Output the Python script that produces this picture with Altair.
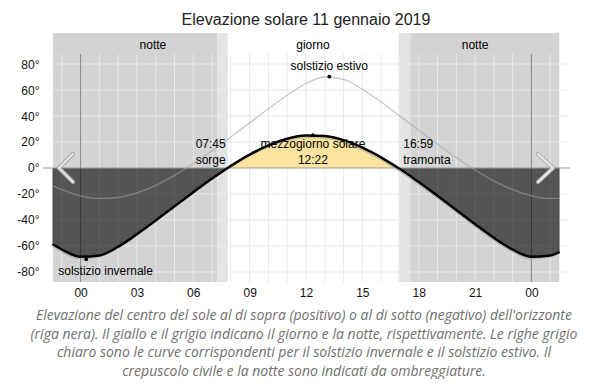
import altair as alt
import pandas as pd

# ---- data ----
hours = [-1.5, -1, 0, 1, 2, 3, 4, 5, 6, 7, 8, 9, 10, 11, 12, 13, 14, 15, 16, 17,
         18, 19, 20, 21, 22, 23, 24, 25, 25.5]
today = [-58.5, -62.7, -68.3, -67.3, -60.6, -51.0, -40.4, -29.4, -18.6, -8.1, 1.6, 10.3,
         17.4, 22.5, 25.0, 24.6, 21.4, 15.7, 8.2, -0.8, -10.8, -21.4, -32.3, -43.2,
         -53.7, -62.7, -68.3, -67.3, -64.5]
summer = [-13.5, -16.7, -21.4, -23.4, -22.7, -19.2, -13.4, -5.7, 3.3, 13.2, 23.8, 34.7,
          45.6, 56.0, 65.0, 70.0, 68.1, 60.6, 50.7, 39.9, 29.0, 18.3, 8.0, -1.5, -9.9,
          -16.7, -21.4, -23.4, -23.4]
winter = [-60.2, -64.5, -69.9, -68.4, -61.1, -51.3, -40.6, -29.7, -18.9, -8.6, 1.0, 9.4,
          16.3, 21.1, 23.4, 22.8, 19.5, 13.8, 6.2, -2.7, -12.6, -23.2, -34.0, -44.9,
          -55.4, -64.5, -69.9, -68.4, -65.3]
sunrise, sunset = 7.83, 16.91

night_start = [-1.47, 17.55]
night_end = [7.29, 25.48]
twilight_start = [7.29, 16.93]
twilight_end = [7.83, 17.55]

band_labels = ["notte", "giorno", "notte"]
band_label_x = [3.85, 12.37, 21.0]
band_label_y = 94.6

point_names = ["solstizio estivo", "mezzogiorno", "solstizio invernale"]
point_x = [13.24, 12.37, 0.3]
point_y = [70.2, 25.2, -70.2]

x_ticks = [0, 3, 6, 9, 12, 15, 18, 21, 24]
y_ticks = [-80, -60, -40, -20, 20, 40, 60, 80]
y_ticks_all = [-80, -60, -40, -20, 0, 20, 40, 60, 80]
grid_hours = [h for h in range(-1, 26) if h not in (0, 24)]

title_text = "Elevazione solare 11 gennaio 2019"
caption = ("Elevazione del centro del sole al di sopra (positivo) o al di sotto (negativo) dell'orizzonte\n"
           "(riga nera). Il giallo e il grigio indicano il giorno e la notte, rispettivamente. Le righe grigio\n"
           "chiaro sono le curve corrispondenti per il solstizio invernale e il solstizio estivo. Il\n"
           "crepuscolo civile e la notte sono indicati da ombreggiature.")

# ---- layout ----
W, H = 526, 249
FONT = "Liberation Sans"

xs = alt.Scale(domain=[-2, 26], nice=False, zero=False)
ys = alt.Scale(domain=[-87.7, 103.85], nice=False, zero=False)
xax = alt.Axis(values=x_ticks, labelExpr="(datum.value % 24 < 10 ? '0' : '') + (datum.value % 24)",
               grid=False, domain=False, ticks=False, title=None, labelFontSize=12,
               labelFont=FONT, labelColor="#111", labelPadding=5)
yax = alt.Axis(values=y_ticks_all, labelExpr="datum.value + '°'", grid=False, domain=False,
               ticks=False, title=None, labelFontSize=12, labelFont=FONT, labelColor="#111",
               labelPadding=4)


def X(field):
    return alt.X(field, type="quantitative", scale=xs, axis=xax)


def Y(field):
    return alt.Y(field, type="quantitative", scale=ys, axis=yax)


def XD(v):
    return alt.XDatum(v, type="quantitative", scale=xs, axis=xax)


def YD(v):
    return alt.YDatum(v, type="quantitative", scale=ys, axis=yax)


one = pd.DataFrame({"k": [0]})

# bands
bands = pd.DataFrame({"s": night_start, "e": night_end})
tw = pd.DataFrame({"s": twilight_start, "e": twilight_end})
night_layer = alt.Chart(bands).mark_rect(color="#d3d3d3").encode(
    x=X("s"), x2="e", y=alt.value(0), y2=alt.value(H))
tw_layer = alt.Chart(tw).mark_rect(color="#e3e3e3").encode(
    x=X("s"), x2="e", y=alt.value(0), y2=alt.value(H))

# grid
vgrid = alt.Chart(pd.DataFrame({"h": grid_hours})).mark_rule(color="#e9e9e9", strokeWidth=1).encode(
    x=X("h"), y=YD(87.7), y2=alt.Y2Datum(-87.7))
hgrid = alt.Chart(pd.DataFrame({"v": y_ticks})).mark_rule(color="#e9e9e9", strokeWidth=1).encode(
    y=Y("v"), x=XD(-1.5), x2=alt.X2Datum(25.9))
midnight = alt.Chart(pd.DataFrame({"h": [0, 24]})).mark_rule(color="#8a8a8a", strokeWidth=1).encode(
    x=X("h"), y=YD(87.7), y2=alt.Y2Datum(-87.7))

# curve data with horizon crossings
pts = list(zip(hours, today)) + [(sunrise, 0.0), (sunset, 0.0)]
pts.sort()
rows = []
for t, v in pts:
    if t <= sunrise:
        rows.append({"t": t, "v": v, "seg": "n1"})
    if sunrise <= t <= sunset:
        rows.append({"t": t, "v": v, "seg": "day"})
    if t >= sunset:
        rows.append({"t": t, "v": v, "seg": "n2"})
seg_df = pd.DataFrame(rows)
full_df = pd.DataFrame({"t": [p[0] for p in pts], "v": [p[1] for p in pts]})

dark_area = alt.Chart(seg_df).transform_filter("datum.seg != 'day'").mark_area(
    color="#000", opacity=0.6, interpolate="monotone").encode(
    x=X("t"), y=Y("v"), y2=alt.Y2Datum(0), detail="seg:N")
day_area = alt.Chart(seg_df).transform_filter("datum.seg == 'day'").mark_area(
    color="#fde49e", opacity=1, interpolate="monotone").encode(
    x=X("t"), y=Y("v"), y2=alt.Y2Datum(0))

zero_line = alt.Chart(one).mark_rule(color="#9a9a9a", strokeWidth=1).encode(
    y=YD(0), x=XD(-2), x2=alt.X2Datum(26.05))

sol_df = pd.DataFrame({"t": hours * 2, "v": summer + winter,
                       "s": ["estivo"] * len(hours) + ["invernale"] * len(hours)})
sol_lines = alt.Chart(sol_df).mark_line(color="#a0a0a0", opacity=0.58, strokeWidth=1.3,
                                        interpolate="monotone").encode(
    x=X("t"), y=Y("v"), detail="s:N")

main_line = alt.Chart(full_df).mark_line(color="#000", strokeWidth=2.5, interpolate="monotone").encode(
    x=X("t"), y=Y("v"))

pdf = pd.DataFrame({"name": point_names, "x": point_x, "y": point_y})
dots = alt.Chart(pdf).mark_circle(color="#000", size=14, opacity=1).encode(x=X("x"), y=Y("y"))

txt = dict(font=FONT, fontSize=12, color="#000")
band_txt = alt.Chart(pd.DataFrame({"l": band_labels, "x": band_label_x})).mark_text(
    baseline="middle", align="center", **txt).encode(x=X("x"), y=YD(band_label_y), text="l:N")

estivo_txt = alt.Chart(pdf[pdf.name == "solstizio estivo"]).mark_text(
    baseline="middle", align="center", dy=-11, **txt).encode(x=X("x"), y=Y("y"), text="name:N")
inv_txt = alt.Chart(pdf[pdf.name == "solstizio invernale"]).mark_text(
    baseline="middle", align="left", dx=-28, dy=12, **txt).encode(x=X("x"), y=Y("y"), text="name:N")
noon_txt = alt.Chart(pdf[pdf.name == "mezzogiorno"]).mark_text(
    baseline="top", align="center", dy=4, lineBreak="\n", lineHeight=16, **txt).encode(
    x=X("x"), y=Y("y"), text=alt.value("mezzogiorno solare\n12:22"))
rise_txt = alt.Chart(one).mark_text(baseline="alphabetic", align="right", dx=-2, dy=-20,
                                    lineBreak="\n", lineHeight=16, **txt).encode(
    x=XD(sunrise), y=YD(0), text=alt.value("07:45\nsorge"))
set_txt = alt.Chart(one).mark_text(baseline="alphabetic", align="left", dx=5, dy=-20,
                                   lineBreak="\n", lineHeight=16, **txt).encode(
    x=XD(sunset), y=YD(0), text=alt.value("16:59\ntramonta"))

title_layer = alt.Chart(one).mark_text(font=FONT, fontSize=16, color="#222", align="center",
                                       baseline="alphabetic").encode(
    x=alt.value(W / 2), y=alt.value(-8), text=alt.value(title_text))
caption_layer = alt.Chart(one).mark_text(font="Open Sans", fontStyle="italic", fontSize=14,
                                         color="#707070", align="center", baseline="alphabetic",
                                         lineBreak="\n", lineHeight=18.5).encode(
    x=alt.value(261), y=alt.value(287), text=alt.value(caption))


def seg(x1, y1, x2, y2, color, width):
    return alt.Chart(one).mark_rule(color=color, strokeWidth=width, strokeCap="round").encode(
        x=alt.value(x1), y=alt.value(y1), x2=alt.value(x2), y2=alt.value(y2))


chev = []
for col, wd in (("#a8a8a8", 4.2), ("#e2e2e2", 2.4)):
    chev += [seg(30, 121, 16, 135, col, wd), seg(16, 135, 30, 149, col, wd),
             seg(495, 121, 510, 135, col, wd), seg(510, 135, 495, 149, col, wd)]

chart = alt.layer(
    night_layer, tw_layer, vgrid, hgrid, midnight, dark_area, day_area, zero_line,
    sol_lines, main_line, dots, band_txt, estivo_txt, inv_txt, noon_txt, rise_txt, set_txt,
    title_layer, caption_layer, *chev
).properties(
    width=W, height=H,
    autosize=alt.AutoSizeParams(type="none"),
    padding={"left": 35, "top": 25, "right": 18, "bottom": 97},
    background="white",
).configure_view(stroke=None)

chart.save("out.html", embed_options={"renderer": "svg", "actions": False})
